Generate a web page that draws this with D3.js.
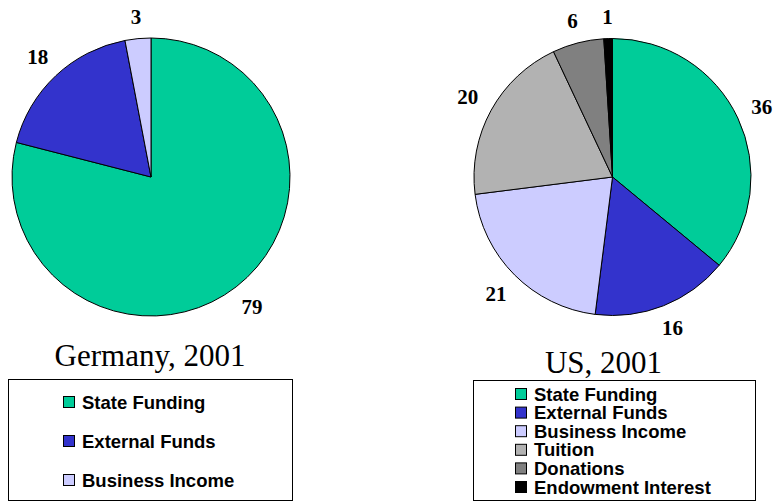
<!DOCTYPE html>
<html>
<head>
<meta charset="utf-8">
<script src="https://cdn.jsdelivr.net/npm/d3@7"></script>
<style>
  body { margin: 0; background: #fff; }
  svg { display: block; }
</style>
</head>
<body>
<div id="chart"></div>
<script>
const categories = ["State Funding", "External Funds", "Business Income", "Tuition", "Donations", "Endowment Interest"];
const germanyCategories = categories.slice(0, 3);
const germanyValues = [79, 18, 3];
const usCategories = categories;
const usValues = [36, 16, 21, 20, 6, 1];
const colors = ["#00cc99", "#3333cc", "#ccccff", "#b2b2b2", "#808080", "#000000"];

const w = 776;
const h = 504;

const color = d3.scaleOrdinal(categories, colors);

const svg = d3.select("#chart")
  .append("svg")
  .attr("width", w)
  .attr("height", h);

function drawPie(opts) {
  const data = opts.cats.map((c, i) => ({ cat: c, value: opts.values[i] }));
  const pie = d3.pie().sort(null).value(d => d.value);
  const arc = d3.arc().innerRadius(0).outerRadius(opts.r);
  const arcs = pie(data);

  const g = svg.append("g")
    .attr("transform", `translate(${opts.cx}, ${opts.cy})`);

  g.selectAll("path")
    .data(arcs)
    .enter()
    .append("path")
    .attr("d", arc)
    .attr("fill", d => color(d.data.cat))
    .attr("stroke", "#000")
    .attr("stroke-width", 1);

  // value labels just outside the rim, pushed out by half the text box
  g.selectAll("text.value")
    .data(arcs)
    .enter()
    .append("text")
    .attr("class", "value")
    .attr("text-anchor", "middle")
    .style("font-family", "'Liberation Serif', 'Times New Roman', serif")
    .style("font-weight", "bold")
    .style("font-size", "21px")
    .text(d => d.data.value)
    .each(function(d) {
      const a = (d.startAngle + d.endAngle) / 2;
      const dx = Math.sin(a), dy = -Math.cos(a);
      const tw = this.getBBox().width;
      const th = 14;
      const dist = opts.r + 14 + Math.abs(dx) * tw / 2 + Math.abs(dy) * th / 2;
      d3.select(this)
        .attr("x", dx * dist)
        .attr("y", dy * dist + th / 2);
    });

  svg.append("text")
    .attr("x", opts.titleX)
    .attr("y", opts.titleY)
    .attr("text-anchor", "middle")
    .style("font-family", "'Liberation Serif', 'Times New Roman', serif")
    .style("font-size", "31px")
    .text(opts.title);

  const lg = svg.append("g");
  lg.append("rect")
    .attr("x", opts.legend.x + 0.5)
    .attr("y", opts.legend.y + 0.5)
    .attr("width", opts.legend.w)
    .attr("height", opts.legend.h)
    .attr("fill", "#fff")
    .attr("stroke", "#000")
    .attr("stroke-width", 1);

  const rows = lg.selectAll("g.item")
    .data(opts.cats)
    .enter()
    .append("g")
    .attr("class", "item")
    .attr("transform", (d, i) => `translate(${opts.legend.sx}, ${opts.legend.y0 + i * opts.legend.step})`);

  rows.append("rect")
    .attr("x", 0.5)
    .attr("y", -5.5)
    .attr("width", 11)
    .attr("height", 11)
    .attr("fill", d => color(d))
    .attr("stroke", "#000")
    .attr("stroke-width", 1);

  rows.append("text")
    .attr("x", 19)
    .attr("y", 6.5)
    .style("font-family", "'Liberation Sans', Arial, sans-serif")
    .style("font-weight", "bold")
    .style("font-size", "18.5px")
    .text(d => d);
}

drawPie({
  cats: germanyCategories, values: germanyValues,
  cx: 151, cy: 177, r: 139,
  title: "Germany, 2001", titleX: 150, titleY: 366,
  legend: { x: 8, y: 379, w: 284, h: 121, sx: 63, y0: 402, step: 39 }
});

drawPie({
  cats: usCategories, values: usValues,
  cx: 612.5, cy: 177, r: 138.5,
  title: "US, 2001", titleX: 603.5, titleY: 373,
  legend: { x: 473, y: 380, w: 282, h: 120, sx: 515, y0: 394, step: 18.6 }
});
</script>
</body>
</html>
